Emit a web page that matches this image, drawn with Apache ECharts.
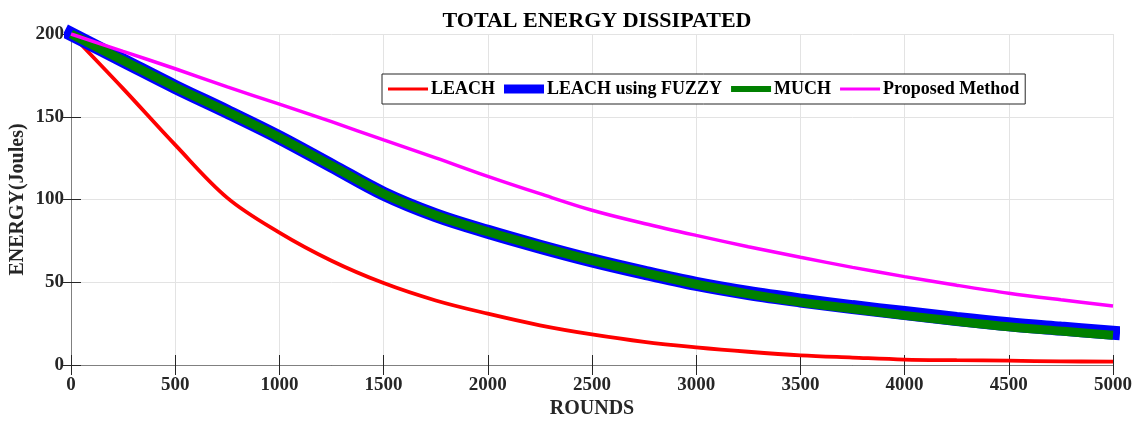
<!DOCTYPE html>
<html>
<head>
<meta charset="utf-8">
<script src="https://cdn.jsdelivr.net/npm/echarts@6/dist/echarts.min.js"></script>
<style>
  html, body { margin: 0; padding: 0; background: #fff; }
  #chart { width: 1139px; height: 421px; }
</style>
</head>
<body>
<div id="chart"></div>
<script>
// rounds sampled every 250
const rounds = [0, 250, 500, 750, 1000, 1250, 1500, 1750, 2000, 2250, 2500,
  2750, 3000, 3250, 3500, 3750, 4000, 4250, 4500, 4750, 5000];

const leach = [200, 167, 133, 101, 80, 63, 49.5, 39, 31, 24, 18.5,
  14, 10.7, 8, 5.8, 4.5, 3.3, 2.9, 2.6, 2.2, 2];
const leachFuzzy = [200, 184, 168, 153, 137.5, 120.5, 103.5, 90.5, 80.5, 71.5, 63.2,
  55.8, 49, 43.5, 39, 35, 31.4, 27.8, 24.6, 22, 19.5];
const much = [200, 184, 168, 153, 137.5, 120.5, 103.5, 90.5, 80.5, 71.5, 63.2,
  55.8, 48.8, 43, 38, 34, 30, 26.4, 23.1, 20.5, 18];
const proposed = [200, 189.5, 179, 168, 157.6, 147, 136, 125.2, 114, 103.5, 93.5,
  85.5, 78.3, 71.5, 65.1, 59, 53.4, 48.2, 43.4, 39.4, 35.7];

const seriesNames = ['LEACH', 'LEACH using FUZZY', 'MUCH', 'Proposed Method'];
const xTicks = { min: 0, max: 5000, interval: 500 };
const yTicks = { min: 0, max: 200, interval: 50 };

const FONT = '"Liberation Serif", "Times New Roman", serif';

function pairs(vals) {
  return rounds.map((r, i) => [r, vals[i]]);
}

const chart = echarts.init(document.getElementById('chart'));

const axisLineDark = { show: true, lineStyle: { color: '#262626', width: 1 } };
const axisLineLight = { show: true, lineStyle: { color: '#808080', width: 1 } };
const tickIn = { show: true, inside: true, length: 10, lineStyle: { color: '#262626' } };
const labelStyle = {
  fontFamily: FONT, fontWeight: 'bold', fontSize: 19, color: '#262626',
  formatter: v => String(v)
};

const option = {
  backgroundColor: '#fff',
  animation: false,
  title: {
    text: 'TOTAL ENERGY DISSIPATED',
    left: 592,
    top: 5,
    textAlign: 'center',
    textStyle: { fontFamily: FONT, fontWeight: 'bold', fontSize: 22, color: '#000' }
  },
  legend: {
    data: [
      { name: seriesNames[0], icon: 'path://M0 0H40V3H0Z' },
      { name: seriesNames[1], icon: 'path://M0 0H40V9H0Z' },
      { name: seriesNames[2], icon: 'path://M0 0H40V6H0Z' },
      { name: seriesNames[3], icon: 'path://M0 0H40V3H0Z' }
    ],
    left: 382,
    top: 74,
    padding: [6, 6],
    itemWidth: 40,
    itemHeight: 14,
    itemGap: 9,
    backgroundColor: '#fff',
    borderColor: '#262626',
    borderWidth: 1,
    borderRadius: 0,
    textStyle: { fontFamily: FONT, fontWeight: 'bold', fontSize: 18, color: '#000', padding: [0, 0, 0, -2] }
  },
  grid: { left: 71, right: 26, top: 34, bottom: 56, containLabel: false, outerBoundsMode: 'none' },
  xAxis: [{
    type: 'value',
    min: xTicks.min, max: xTicks.max, interval: xTicks.interval,
    name: 'ROUNDS',
    nameLocation: 'middle',
    nameGap: 34,
    nameMoveOverlap: false,
    nameTextStyle: { fontFamily: FONT, fontWeight: 'bold', fontSize: 20, color: '#262626' },
    axisLine: axisLineDark,
    axisTick: tickIn,
    axisLabel: Object.assign({ margin: 11 }, labelStyle),
    splitLine: { show: true, lineStyle: { color: '#e3e3e3', width: 1 } }
  }, {
    type: 'value',
    position: 'top',
    min: xTicks.min, max: xTicks.max, interval: xTicks.interval,
    axisLine: axisLineLight,
    axisTick: tickIn,
    axisLabel: { show: false },
    splitLine: { show: false }
  }],
  yAxis: [{
    type: 'value',
    min: yTicks.min, max: yTicks.max, interval: yTicks.interval,
    name: 'ENERGY(Joules)',
    nameLocation: 'middle',
    nameGap: 43,
    nameMoveOverlap: false,
    nameTextStyle: { fontFamily: FONT, fontWeight: 'bold', fontSize: 20, color: '#262626' },
    axisLine: axisLineDark,
    axisTick: tickIn,
    axisLabel: Object.assign({ margin: 7 }, labelStyle),
    splitLine: { show: true, lineStyle: { color: '#e3e3e3', width: 1 } }
  }, {
    type: 'value',
    position: 'right',
    min: yTicks.min, max: yTicks.max, interval: yTicks.interval,
    axisLine: axisLineLight,
    axisTick: tickIn,
    axisLabel: { show: false },
    splitLine: { show: false }
  }],
  series: [
    {
      name: seriesNames[0], type: 'line', data: pairs(leach),
      smooth: 0.35, showSymbol: false, symbol: 'none',
      color: '#ff0000', lineStyle: { color: '#ff0000', width: 3.8 }
    },
    {
      name: seriesNames[1], type: 'line', data: pairs(leachFuzzy),
      smooth: 0.35, showSymbol: false, symbol: 'none', clip: false,
      color: '#0000ff', lineStyle: { color: '#0000ff', width: 14, cap: 'square' }
    },
    {
      name: seriesNames[2], type: 'line', data: pairs(much),
      smooth: 0.35, showSymbol: false, symbol: 'none', clip: false,
      color: '#008000', lineStyle: { color: '#008000', width: 9 }
    },
    {
      name: seriesNames[3], type: 'line', data: pairs(proposed),
      smooth: 0.35, showSymbol: false, symbol: 'none',
      color: '#ff00ff', lineStyle: { color: '#ff00ff', width: 3.5 }
    }
  ]
};

chart.setOption(option);
</script>
</body>
</html>
